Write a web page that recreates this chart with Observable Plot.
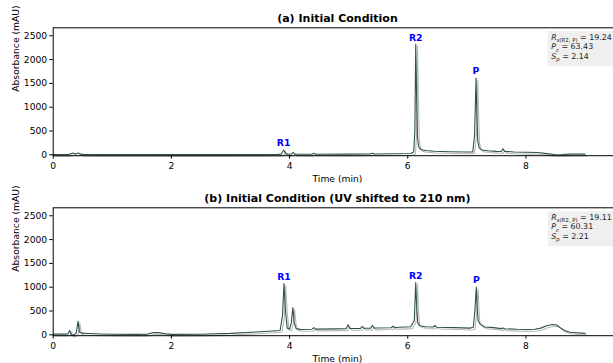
<!DOCTYPE html>
<html><head><meta charset="utf-8">
<script src="https://cdn.jsdelivr.net/npm/d3@7"></script>
<script src="https://cdn.jsdelivr.net/npm/@observablehq/plot@0.6"></script>
<style>
html,body{margin:0;padding:0;background:#fff;overflow:hidden;}
#chart{width:613px;height:363px;overflow:hidden;position:relative;}
#chart svg{display:block;}
</style></head><body><div id="chart"></div>
<script>
// ---------- data ----------
const timeA = [0.00,0.25,0.30,0.34,0.37,0.40,0.43,0.46,0.50,1.00,2.00,3.00,3.80,3.86,3.90,3.94,3.98,4.03,4.06,4.09,4.20,4.38,4.41,4.44,5.00,5.37,5.40,5.43,5.80,6.05,6.10,6.12,6.135,6.15,6.165,6.185,6.22,6.30,6.45,6.70,7.00,7.10,7.13,7.155,7.17,7.185,7.21,7.26,7.35,7.50,7.58,7.61,7.64,7.80,8.00,8.20,8.35,8.50,8.60,8.75,9.00];
const absA  = [5,5,20,35,15,25,40,15,8,5,3,3,8,15,100,20,10,15,50,12,10,10,30,12,15,18,35,18,22,28,60,500,2320,1200,350,170,110,90,75,65,60,62,400,1610,800,280,140,100,85,72,68,125,72,60,52,48,25,2,5,15,15];

const timeB = [0.00,0.20,0.25,0.28,0.30,0.32,0.36,0.39,0.42,0.445,0.48,0.60,0.80,1.00,1.40,1.60,1.70,1.78,1.88,2.00,2.50,3.00,3.50,3.84,3.88,3.905,3.93,3.96,4.00,4.03,4.055,4.08,4.11,4.20,4.38,4.41,4.44,4.80,4.96,4.99,5.02,5.20,5.23,5.26,5.37,5.40,5.43,5.72,5.75,5.78,6.05,6.11,6.135,6.15,6.17,6.20,6.30,6.43,6.46,6.49,6.80,7.05,7.11,7.135,7.16,7.175,7.19,7.22,7.30,7.45,7.58,7.61,7.64,7.85,8.00,8.15,8.25,8.35,8.45,8.52,8.58,8.65,8.75,9.00];
const absB  = [15,15,20,90,20,-10,5,40,285,60,35,28,18,12,8,15,45,48,25,8,12,30,65,90,400,1075,500,140,120,250,570,250,130,112,118,150,120,125,130,210,132,135,175,136,140,195,142,148,180,152,168,300,1100,600,250,190,170,163,195,158,150,140,160,500,1000,550,300,230,165,150,130,142,128,115,110,118,140,190,216,205,150,90,55,30];

const peakLabels = ["R1", "R2", "P"];
const peakTimesA = [3.90, 6.135, 7.155];
const peakHeightsA = [100, 2320, 1610];
const peakTimesB = [3.905, 6.135, 7.16];
const peakHeightsB = [1075, 1100, 1000];

const statSymbols = ["R", "P", "S"];
const statSubs = ["s(R2, P)", "c", "p"];
const statsA = [19.24, 63.43, 2.14];
const statsB = [19.11, 60.31, 2.21];

const titles = ["(a) Initial Condition", "(b) Initial Condition (UV shifted to 210 nm)"];
const xLabel = "Time (min)";
const yLabel = "Absorbance (mAU)";
const xTicks = [0, 2, 4, 6, 8];
const yTicks = [0, 500, 1000, 1500, 2000, 2500];

// ---------- chart ----------
function panel(time, abs, pTimes, pHeights, stats, title, height, marginBottom) {
  const series = time.map((t, i) => ({t, v: abs[i]}));
  const labels = peakLabels.map((label, i) => ({label, t: pTimes[i], v: pHeights[i]}));
  const ann = statSymbols.map((sym, i) => ({sym, sub: statSubs[i], value: stats[i]}));
  const annMarks = ann.map((d, i) => Plot.text([d], {
    frameAnchor: "top-right", dx: -70.5, dy: 9.4 + 9.7 * i,
    textAnchor: "start", lineAnchor: "middle", fontSize: 7.9, fill: "#222",
    text: d => `${d.sym}_{${d.sub}} = ${d.value.toFixed(2)}`
  }));
  return Plot.plot({
    width: 622, height,
    marginLeft: 52.7, marginRight: 0.8, marginTop: 27.3, marginBottom,
    style: {fontFamily: "DejaVu Sans", fontSize: "9.2px", color: "black", background: "none", overflow: "visible", maxWidth: "none"},
    x: {domain: [0, 9.62]},
    y: {domain: [-19, 2668]},
    marks: [
      Plot.line(series, {x: "t", y: "v", stroke: "#0e1818", strokeOpacity: 0.3, strokeWidth: 1.1, dx: 1.8, dy: 1.8}),
      Plot.line(series, {x: "t", y: "v", stroke: "#2f4f4f", strokeWidth: 1.1}),
      Plot.frame({stroke: "black", strokeWidth: 1}),
      Plot.axisX({ticks: xTicks, tickSize: 3.5, tickPadding: 3.5, label: null, tickFormat: d => String(d)}),
      Plot.axisY({ticks: yTicks, tickSize: 3.5, tickPadding: 2.5, label: null, tickFormat: d => String(d)}),
      Plot.text([title], {text: d => d, frameAnchor: "top", dx: 0, dy: -9.5, lineAnchor: "middle", fontWeight: "bold", fontSize: 11}),
      Plot.text([xLabel], {text: d => d, frameAnchor: "bottom", dy: 23.2, lineAnchor: "middle"}),
      Plot.text([yLabel], {text: d => d, frameAnchor: "left", rotate: -90, dx: -37.4, lineAnchor: "middle"}),
      Plot.text(labels, {x: "t", y: "v", text: "label", dy: -6.8, lineAnchor: "middle", fill: "blue", fontWeight: "bold", fontSize: 9.3}),
      ...annMarks
    ]
  });
}

function richify(svg) {
  const texts = [];
  d3.select(svg).selectAll("text").each(function() {
    const m = /^(\w)_\{(.+)\} = (.+)$/.exec(this.textContent);
    if (!m) return;
    const el = d3.select(this);
    el.text(null);
    el.append("tspan").attr("font-style", "italic").text(m[1]);
    el.append("tspan").attr("font-style", "italic").attr("font-size", 5.4).attr("dy", 2.2).text(m[2][0]);
    if (m[2].length > 1) el.append("tspan").attr("font-size", 5.4).text(m[2].slice(1));
    el.append("tspan").attr("dy", -2.2).text(" = " + m[3]);
    texts.push(this);
  });
  if (!texts.length) return;
  const sr = svg.getBoundingClientRect();
  let x0 = Infinity, y0 = Infinity, y1 = -Infinity;
  texts.forEach(t => {
    const r = t.getBoundingClientRect();
    x0 = Math.min(x0, r.left - sr.left);
    y0 = Math.min(y0, r.top - sr.top);
    y1 = Math.max(y1, r.bottom - sr.top);
  });
  let g = texts[0];
  while (g.parentNode !== svg) g = g.parentNode;
  d3.select(svg).insert("rect", () => g)
    .attr("x", x0 - 3.5).attr("y", y0 - 1.5)
    .attr("width", 200).attr("height", y1 - y0 + 4.5)
    .attr("fill", "#efefef");
}

const root = document.getElementById("chart");
const svgA = panel(timeA, absA, peakTimesA, peakHeightsA, statsA, titles[0], 180, 24.8);
const svgB = panel(timeB, absB, peakTimesB, peakHeightsB, statsB, titles[1], 183, 27.8);
root.appendChild(svgA);
root.appendChild(svgB);
richify(svgA);
richify(svgB);
</script>
</body></html>
